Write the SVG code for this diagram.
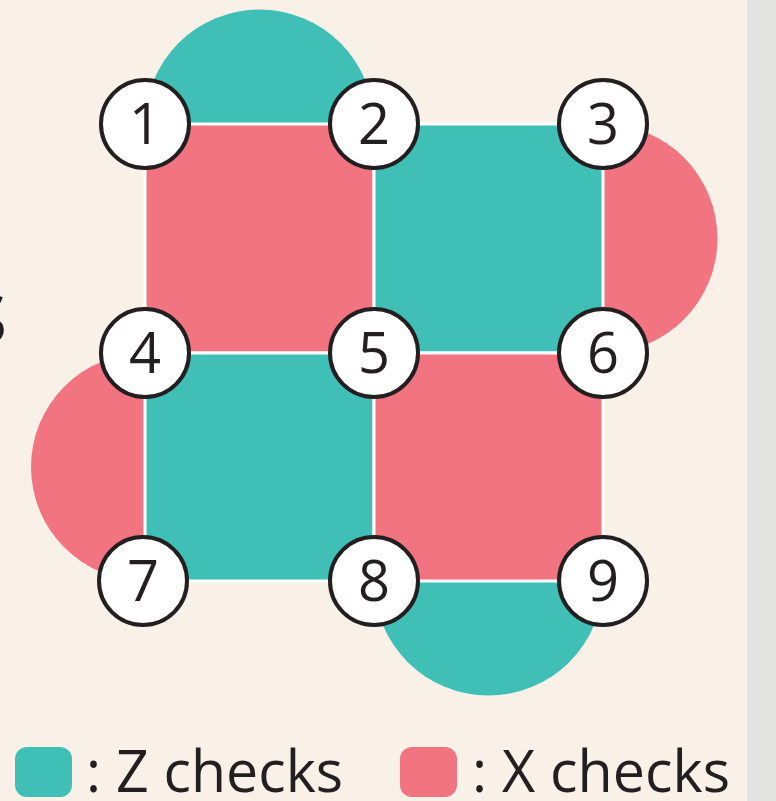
<svg xmlns="http://www.w3.org/2000/svg" width="776" height="801" viewBox="0 0 776 801">
<style>
.z{fill:#3fbfb5}
.x{fill:#f27480}
.sq{stroke:#ffffff;stroke-width:3}
.nc{fill:#ffffff;stroke:#231f20;stroke-width:4}
.nt{font-family:"Open Sans","Liberation Sans",sans-serif;font-size:56px;fill:#231f20;text-anchor:middle}
.lg{font-family:"Open Sans","Liberation Sans",sans-serif;font-size:58px;fill:#231f20}
</style>
<rect x="0" y="0" width="776" height="801" fill="#f9f1e8"/>
<rect x="747" y="0" width="29" height="801" fill="#e4e5e3"/>
<text x="8" y="343" font-family="Open Sans, Liberation Sans, sans-serif" font-size="90" fill="#231f20" text-anchor="end">s</text>
<g id="checks">
<path class="z" d="M145,124 A114.5,114.5 0 0 1 374,124 Z"/>
<path class="x" d="M603,124 A114.5,114.5 0 0 1 603,353 Z"/>
<path class="x" d="M145,581 A114,114 0 0 1 145,353 Z"/>
<path class="z" d="M603,581 A114.5,114.5 0 0 1 374,581 Z"/>
<rect class="x sq" x="145" y="124" width="229" height="229"/>
<rect class="z sq" x="374" y="124" width="229" height="229"/>
<rect class="z sq" x="145" y="353" width="229" height="228"/>
<rect class="x sq" x="374" y="353" width="229" height="228"/>
</g>
<g id="connectors"></g>
<g id="n1"><circle class="nc" cx="145" cy="124" r="44"/><text class="nt" x="145" y="144">1</text></g>
<g id="n2"><circle class="nc" cx="374" cy="124" r="44"/><text class="nt" x="374" y="144">2</text></g>
<g id="n3"><circle class="nc" cx="603" cy="124" r="44"/><text class="nt" x="603" y="144">3</text></g>
<g id="n4"><circle class="nc" cx="145" cy="353" r="44"/><text class="nt" x="145" y="373">4</text></g>
<g id="n5"><circle class="nc" cx="374" cy="353" r="44"/><text class="nt" x="374" y="373">5</text></g>
<g id="n6"><circle class="nc" cx="603" cy="353" r="44"/><text class="nt" x="603" y="373">6</text></g>
<g id="n7"><circle class="nc" cx="143" cy="581" r="44"/><text class="nt" x="143" y="601">7</text></g>
<g id="n8"><circle class="nc" cx="374" cy="581" r="44"/><text class="nt" x="374" y="601">8</text></g>
<g id="n9"><circle class="nc" cx="603" cy="581" r="44"/><text class="nt" x="603" y="601">9</text></g>
<g id="legend">
<rect class="z" x="15" y="747" width="57" height="50" rx="12"/>
<text class="lg" x="86" y="792" textLength="257" lengthAdjust="spacingAndGlyphs">: Z checks</text>
<rect class="x" x="400" y="747" width="57" height="50" rx="12"/>
<text class="lg" x="472" y="792" textLength="258" lengthAdjust="spacingAndGlyphs">: X checks</text>
</g>
</svg>
